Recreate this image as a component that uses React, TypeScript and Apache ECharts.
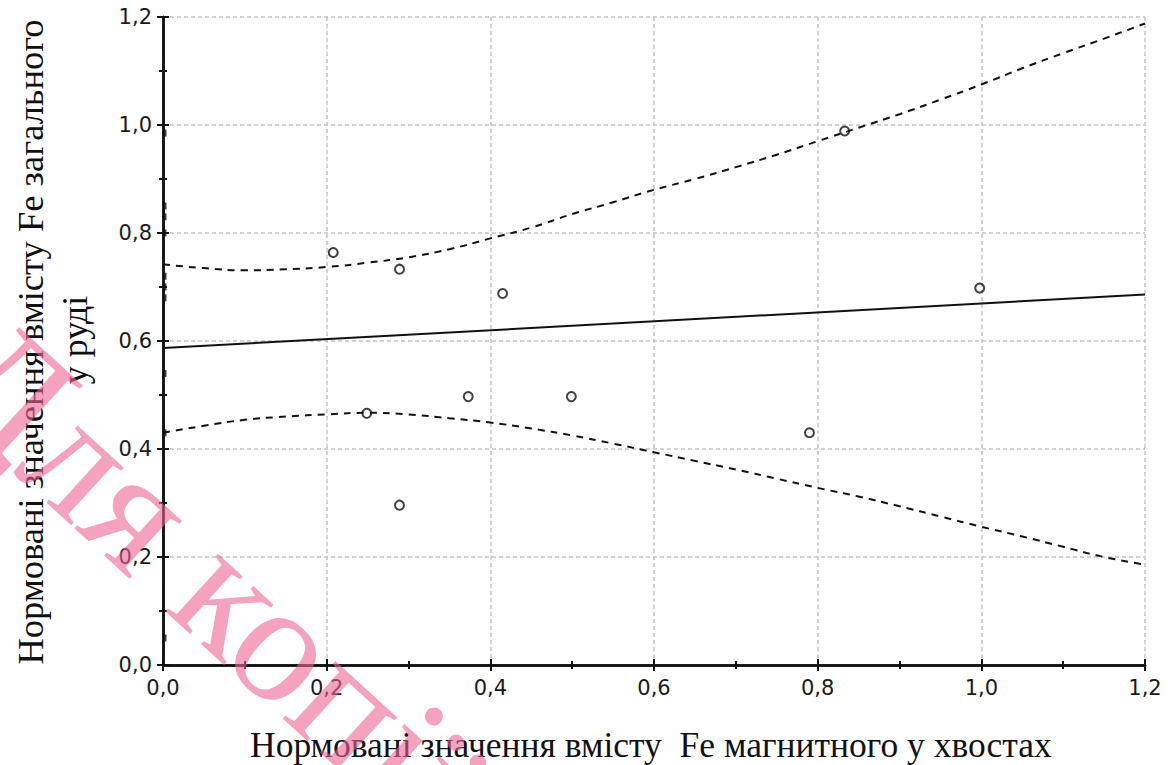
import React, { useEffect, useRef } from "react";
import * as echarts from "echarts";

// Observed points (x, y)
const obsX = [0.208, 0.289, 0.415, 0.249, 0.373, 0.499, 0.289, 0.833, 0.998, 0.79];
const obsY = [0.764, 0.733, 0.688, 0.466, 0.497, 0.497, 0.296, 0.989, 0.698, 0.43];
// Points lying on the left edge (x = 0)
const edgeY = [0.985, 0.85, 0.83, 0.8, 0.72, 0.7, 0.68, 0.54, 0.43, 0.05];

// Regression line
const fitX = [0, 1.2];
const fitY = [0.587, 0.686];

// Confidence bands
const bandX = [0, 0.05, 0.1, 0.15, 0.2, 0.25, 0.3, 0.35, 0.4, 0.45, 0.5, 0.55, 0.6, 0.65, 0.7, 0.75, 0.8, 0.85, 0.9, 0.95, 1.0, 1.05, 1.1, 1.15, 1.2];
const upperY = [0.742, 0.735, 0.731, 0.733, 0.737, 0.745, 0.755, 0.77, 0.79, 0.81, 0.835, 0.857, 0.88, 0.9, 0.922, 0.945, 0.97, 0.995, 1.02, 1.047, 1.075, 1.105, 1.133, 1.16, 1.188];
const lowerY = [0.43, 0.443, 0.454, 0.46, 0.464, 0.467, 0.464, 0.457, 0.449, 0.438, 0.425, 0.41, 0.394, 0.378, 0.362, 0.345, 0.328, 0.312, 0.294, 0.275, 0.256, 0.238, 0.219, 0.2, 0.186];

const xTitle = "Нормовані значення вмісту  Fe магнитного у хвостах";
const yTitle1 = "Нормовані значення вмісту Fe загального";
const yTitle2 = "у руді";
const watermark = "Для копії";

const fmt = (v: number) => v.toFixed(1).replace(".", ",");

export default function App() {
  const ref = useRef<HTMLDivElement>(null);
  useEffect(() => {
    if (!ref.current) return;
    const chart = echarts.init(ref.current, undefined, { renderer: "svg" });
    const axisLine = { show: true, lineStyle: { color: "#111", width: 2.5 } };
    const tick = { show: true, inside: true, length: 6, lineStyle: { color: "#111", width: 2 } };
    const minorTick = { show: true, splitNumber: 2, length: 4, lineStyle: { color: "#111", width: 2 } };
    const split = { show: true, lineStyle: { color: "#c4c4c4", width: 1.5, type: [4, 3] as any } };
    const label = { fontFamily: '"DejaVu Sans", Verdana, sans-serif', fontSize: 21, color: "#1a1a1a", formatter: fmt };
    const dash = { color: "#111", width: 2, type: [7, 6] as any };

    chart.setOption({
      animation: false,
      backgroundColor: "#fff",
      grid: { left: 163, right: 29, top: 17, bottom: 100, containLabel: false },
      xAxis: [
        { type: "value", min: 0, max: 1.2, interval: 0.2, position: "bottom", axisLine, axisTick: tick, minorTick, splitLine: split,
          axisLabel: { ...label, margin: 12 } },
        { type: "value", min: 0, max: 1.2, interval: 0.2, position: "top", axisLine, axisTick: tick, minorTick, splitLine: { show: false },
          axisLabel: { show: false } },
      ],
      yAxis: [
        { type: "value", min: 0, max: 1.2, interval: 0.2, position: "left", axisLine, axisTick: tick, minorTick, splitLine: split,
          axisLabel: { ...label, margin: 11 } },
        { type: "value", min: 0, max: 1.2, interval: 0.2, position: "right", axisLine, axisTick: tick, minorTick, splitLine: { show: false },
          axisLabel: { show: false } },
      ],
      series: [
        { type: "line", data: fitX.map((x, i) => [x, fitY[i]]), showSymbol: false, lineStyle: { color: "#111", width: 2 }, z: 3 },
        { type: "line", data: bandX.map((x, i) => [x, upperY[i]]), showSymbol: false, smooth: true, lineStyle: dash, z: 3 },
        { type: "line", data: bandX.map((x, i) => [x, lowerY[i]]), showSymbol: false, smooth: true, lineStyle: dash, z: 3 },
        { type: "scatter", data: obsX.map((x, i) => [x, obsY[i]]), symbol: "circle", symbolSize: 9,
          itemStyle: { color: "rgba(255,255,255,0)", borderColor: "#111", borderWidth: 2 }, z: 4 },
        { type: "scatter", data: edgeY.map((y) => [0, y]), symbol: "rect", symbolSize: [3, 7], symbolOffset: [2, 0],
          itemStyle: { color: "#111" }, z: 4 },
      ],
      graphic: [
        { type: "text", left: 250, top: 727, style: { text: xTitle, font: '35.5px "Liberation Serif", serif', fill: "#111" } },
        { type: "text", x: 30, y: 342, rotation: Math.PI / 2,
          style: { text: yTitle1, font: '36.5px "Liberation Serif", serif', fill: "#111", textAlign: "center", textVerticalAlign: "middle" } },
        { type: "text", x: 75, y: 340, rotation: Math.PI / 2,
          style: { text: yTitle2, font: '36px "Liberation Serif", serif', fill: "#111", textAlign: "center", textVerticalAlign: "middle" } },
        { type: "text", x: 210, y: 575, rotation: -0.74, z: 100,
          style: { text: watermark, font: '170px "Liberation Serif", serif', fill: "rgba(236,100,145,0.6)", stroke: "none", lineWidth: 0,
            textAlign: "center", textVerticalAlign: "middle" } },
      ],
    });
    return () => chart.dispose();
  }, []);
  return <div ref={ref} style={{ width: 1174, height: 765, position: "absolute", left: 0, top: 0 }} />;
}
